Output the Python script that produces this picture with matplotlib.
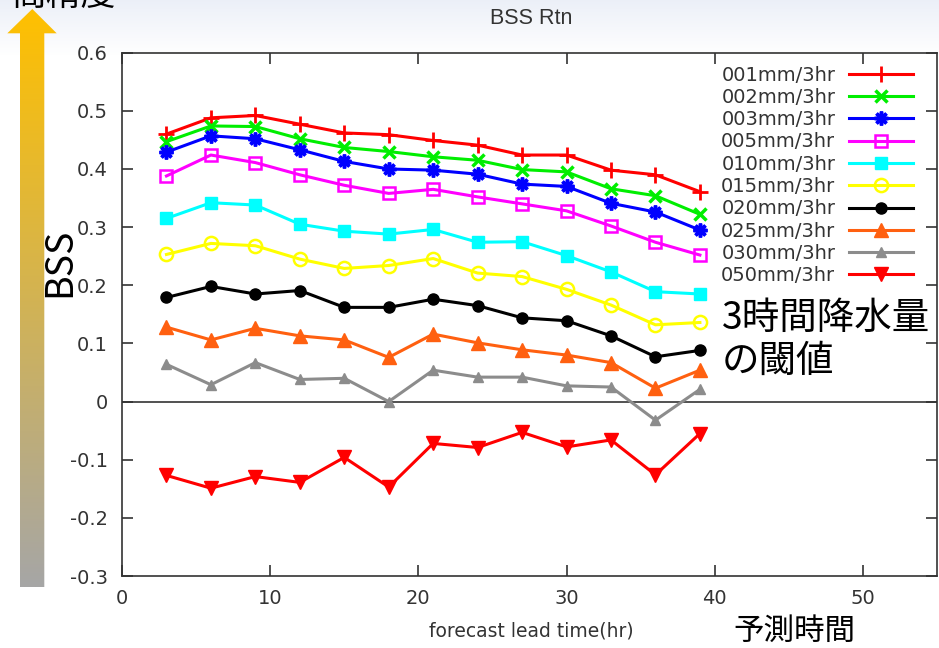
import numpy as np
import matplotlib
matplotlib.use("Agg")
import matplotlib.pyplot as plt
from matplotlib.patches import Polygon
from matplotlib.colors import LinearSegmentedColormap

# ---- data -------------------------------------------------------------
lead_time = [3, 6, 9, 12, 15, 18, 21, 24, 27, 30, 33, 36, 39]

labels = ["001mm/3hr", "002mm/3hr", "003mm/3hr", "005mm/3hr", "010mm/3hr",
          "015mm/3hr", "020mm/3hr", "025mm/3hr", "030mm/3hr", "050mm/3hr"]

bss_001 = [0.460, 0.488, 0.492, 0.477, 0.462, 0.459, 0.449, 0.441, 0.424, 0.424, 0.398, 0.390, 0.361]
bss_002 = [0.447, 0.474, 0.473, 0.452, 0.437, 0.430, 0.421, 0.415, 0.399, 0.395, 0.366, 0.354, 0.322]
bss_003 = [0.429, 0.457, 0.452, 0.433, 0.413, 0.400, 0.398, 0.391, 0.374, 0.370, 0.341, 0.326, 0.295]
bss_005 = [0.388, 0.424, 0.411, 0.390, 0.372, 0.358, 0.365, 0.352, 0.340, 0.328, 0.302, 0.274, 0.252]
bss_010 = [0.315, 0.342, 0.338, 0.305, 0.293, 0.288, 0.296, 0.274, 0.275, 0.251, 0.223, 0.189, 0.185]
bss_015 = [0.253, 0.272, 0.268, 0.245, 0.229, 0.234, 0.246, 0.221, 0.215, 0.193, 0.166, 0.132, 0.136]
bss_020 = [0.179, 0.198, 0.185, 0.191, 0.162, 0.162, 0.176, 0.165, 0.144, 0.139, 0.113, 0.077, 0.088]
bss_025 = [0.128, 0.106, 0.126, 0.113, 0.106, 0.076, 0.116, 0.101, 0.089, 0.080, 0.067, 0.023, 0.054]
bss_030 = [0.064, 0.029, 0.067, 0.038, 0.040, 0.000, 0.054, 0.042, 0.042, 0.027, 0.025, -0.032, 0.021]
bss_050 = [-0.127, -0.149, -0.129, -0.139, -0.096, -0.147, -0.072, -0.079, -0.053, -0.078, -0.066, -0.126, -0.055]

series = [bss_001, bss_002, bss_003, bss_005, bss_010,
          bss_015, bss_020, bss_025, bss_030, bss_050]

x_ticks = [0, 10, 20, 30, 40, 50]
y_ticks = [-0.3, -0.2, -0.1, 0.0, 0.1, 0.2, 0.3, 0.4, 0.5, 0.6]
y_tick_labels = ["-0.3", "-0.2", "-0.1", "0", "0.1", "0.2", "0.3", "0.4", "0.5", "0.6"]

# ---- styles -----------------------------------------------------------
styles = [
    dict(color="#FF0000", marker="+", ms=11, mew=2.0, mfc="#FF0000"),
    dict(color="#00EE00", marker="x", ms=8.5, mew=2.5, mfc="#00EE00"),
    dict(color="#0000FF", marker=(8, 2, 0), ms=10, mew=2.5, mfc="#0000FF"),
    dict(color="#FF00FF", marker="s", ms=9, mew=1.8, mfc="none"),
    dict(color="#00FFFF", marker="s", ms=8, mew=1.0, mfc="#00FFFF"),
    dict(color="#FFFF00", marker="o", ms=9.5, mew=1.8, mfc="none"),
    dict(color="#000000", marker="o", ms=8, mew=1.0, mfc="#000000"),
    dict(color="#FF6010", marker="^", ms=10, mew=1.0, mfc="#FF6010"),
    dict(color="#8C8C8C", marker="^", ms=6.5, mew=1.0, mfc="#8C8C8C"),
    dict(color="#FF0000", marker="v", ms=10, mew=1.0, mfc="#FF0000"),
]

W, H = 939, 648
fig = plt.figure(figsize=(W / 100, H / 100), dpi=100)
fig.patch.set_facecolor("white")

# ---- backdrop: faint top tint and the accuracy arrow -------------------
bg = fig.add_axes([0, 0, 1, 1], zorder=-5)
rows = np.arange(H)
t = np.clip(rows / 55.0, 0, 1)[:, None]
tint = np.array([0.925, 0.94, 0.972])
grad = tint * (1 - t) + 1.0 * t
bg.imshow(grad[:, None, :], extent=(0, W, H, 0), aspect="auto")

arrow_pts = [(32.3, 9), (56.7, 33.3), (44.3, 33.3), (44.3, 587),
             (20.0, 587), (20.0, 33.3), (7.3, 33.3)]
arrow = Polygon(arrow_pts, closed=True, facecolor="none", edgecolor="none")
bg.add_patch(arrow)
acc_cmap = LinearSegmentedColormap.from_list("acc", ["#FFC000", "#A6A6A6"])
im = bg.imshow(np.linspace(0, 1, 256).reshape(-1, 1), cmap=acc_cmap,
               extent=(7, 57, 587, 9), aspect="auto")
im.set_clip_path(arrow)
bg.set_xlim(0, W)
bg.set_ylim(H, 0)
bg.axis("off")

# annotations in pixel coordinates, drawn above the plot area
px = bg.transData
jp = ["Noto Sans CJK JP", "DejaVu Sans"]
fig.text(12, 5, "高精度", transform=px, family=jp, fontsize=25, ha="left", va="baseline", color="black")
fig.text(60, 262, "BSS", transform=px, family=jp, fontsize=27, rotation=90, ha="center", va="center", color="black")
fig.text(722, 318, "3時間降水量", transform=px, family=jp, fontsize=27, ha="left", va="center", color="black", zorder=10)
fig.text(722, 361, "の閾値", transform=px, family=jp, fontsize=27, ha="left", va="center", color="black", zorder=10)
fig.text(733, 631, "予測時間", transform=px, family=jp, fontsize=22, ha="left", va="center", color="black")
fig.text(531, 18.5, "BSS Rtn", transform=px, family="Liberation Sans", fontsize=15.5, ha="center", va="center", color="#333333")
fig.text(531, 631, "forecast lead time(hr)", transform=px, family="DejaVu Sans", fontsize=13.5, ha="center", va="center", color="#333333")

# ---- main plot --------------------------------------------------------
ax = fig.add_axes([122 / W, 1 - 576 / H, (937 - 122) / W, (576 - 52.7) / H])
ax.set_facecolor("white")
ax.axhline(0, color="#333333", lw=1.2, zorder=1)

for vals, lab, st in zip(series, labels, styles):
    ax.plot(lead_time, vals, label=lab, lw=2.2, color=st["color"], marker=st["marker"],
            ms=st["ms"], mew=st["mew"], mfc=st["mfc"], mec=st["color"], zorder=3)

ax.set_xlim(0, 55)
ax.set_ylim(-0.3, 0.6)
ax.set_xticks(x_ticks)
ax.set_yticks(y_ticks)
ax.set_yticklabels(y_tick_labels)
for sp in ax.spines.values():
    sp.set_color("#333333")
    sp.set_linewidth(1.2)
ax.tick_params(direction="in", length=8, width=1.2, color="#333333",
               top=True, right=True, labelsize=14, labelcolor="#333333")
ax.tick_params(axis="y", pad=10)
ax.tick_params(axis="x", pad=9)
for lbl in ax.get_xticklabels() + ax.get_yticklabels():
    lbl.set_family("DejaVu Sans")

leg = ax.legend(loc="upper right", bbox_to_anchor=(0.9706, 0.9755), markerfirst=False,
                frameon=False, borderpad=0, borderaxespad=0, handlelength=3.3,
                handletextpad=0.7, labelspacing=0.17, numpoints=1,
                prop={"family": "DejaVu Sans", "size": 14})
for txt in leg.get_texts():
    txt.set_color("#333333")

fig.savefig("out.png", dpi=100)
